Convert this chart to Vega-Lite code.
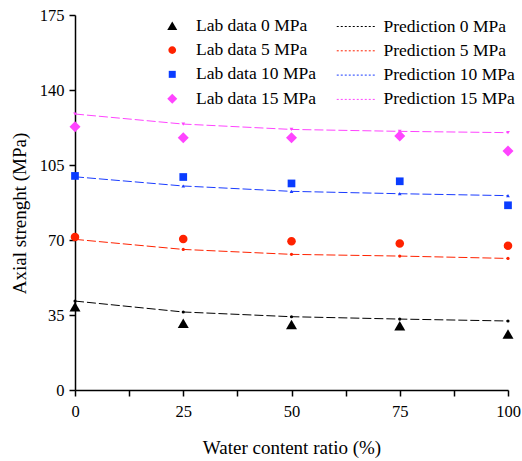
{
  "$schema": "https://vega.github.io/schema/vega-lite/v6.json",
  "width": 433,
  "height": 375,
  "autosize": {"type": "none"},
  "padding": {"left": 75, "top": 15, "right": 14, "bottom": 71},
  "background": "white",
  "config": {
    "font": "Liberation Serif",
    "view": {"stroke": null},
    "axis": {
      "domainColor": "black", "domainWidth": 1.5,
      "tickColor": "black", "tickWidth": 1.5, "tickSize": 6,
      "labelFont": "Liberation Serif", "labelFontSize": 16.5, "labelColor": "black",
      "titleFont": "Liberation Serif", "titleFontSize": 19, "titleFontWeight": "normal", "titleColor": "black",
      "grid": false
    },
    "legend": {
      "labelFont": "Liberation Serif", "labelFontSize": 17.5, "labelColor": "black", "labelFontWeight": "normal",
      "padding": 0, "titlePadding": 0
    }
  },
  "datasets": {
    "lab": [
      {"x": 0, "y": 38.9, "series": "Lab data 0 MPa"},
      {"x": 25, "y": 31.1, "series": "Lab data 0 MPa"},
      {"x": 50, "y": 30.6, "series": "Lab data 0 MPa"},
      {"x": 75, "y": 30.0, "series": "Lab data 0 MPa"},
      {"x": 100, "y": 26.1, "series": "Lab data 0 MPa"},
      {"x": 0, "y": 71.4, "series": "Lab data 5 MPa"},
      {"x": 25, "y": 70.5, "series": "Lab data 5 MPa"},
      {"x": 50, "y": 69.4, "series": "Lab data 5 MPa"},
      {"x": 75, "y": 68.4, "series": "Lab data 5 MPa"},
      {"x": 100, "y": 67.3, "series": "Lab data 5 MPa"},
      {"x": 0, "y": 99.9, "series": "Lab data 10 MPa"},
      {"x": 25, "y": 99.4, "series": "Lab data 10 MPa"},
      {"x": 50, "y": 96.4, "series": "Lab data 10 MPa"},
      {"x": 75, "y": 97.4, "series": "Lab data 10 MPa"},
      {"x": 100, "y": 86.2, "series": "Lab data 10 MPa"},
      {"x": 0, "y": 122.9, "series": "Lab data 15 MPa"},
      {"x": 25, "y": 117.7, "series": "Lab data 15 MPa"},
      {"x": 50, "y": 117.7, "series": "Lab data 15 MPa"},
      {"x": 75, "y": 118.5, "series": "Lab data 15 MPa"},
      {"x": 100, "y": 111.5, "series": "Lab data 15 MPa"}
    ],
    "pred": [
      {"x": 0, "y": 41.5, "pseries": "Prediction 0 MPa"},
      {"x": 25, "y": 36.4, "pseries": "Prediction 0 MPa"},
      {"x": 50, "y": 34.2, "pseries": "Prediction 0 MPa"},
      {"x": 75, "y": 33.1, "pseries": "Prediction 0 MPa"},
      {"x": 100, "y": 32.2, "pseries": "Prediction 0 MPa"},
      {"x": 0, "y": 70.3, "pseries": "Prediction 5 MPa"},
      {"x": 25, "y": 65.6, "pseries": "Prediction 5 MPa"},
      {"x": 50, "y": 63.3, "pseries": "Prediction 5 MPa"},
      {"x": 75, "y": 62.5, "pseries": "Prediction 5 MPa"},
      {"x": 100, "y": 61.4, "pseries": "Prediction 5 MPa"},
      {"x": 0, "y": 99.5, "pseries": "Prediction 10 MPa"},
      {"x": 25, "y": 95.2, "pseries": "Prediction 10 MPa"},
      {"x": 50, "y": 92.7, "pseries": "Prediction 10 MPa"},
      {"x": 75, "y": 91.6, "pseries": "Prediction 10 MPa"},
      {"x": 100, "y": 90.7, "pseries": "Prediction 10 MPa"},
      {"x": 0, "y": 128.8, "pseries": "Prediction 15 MPa"},
      {"x": 25, "y": 124.1, "pseries": "Prediction 15 MPa"},
      {"x": 50, "y": 121.6, "pseries": "Prediction 15 MPa"},
      {"x": 75, "y": 120.7, "pseries": "Prediction 15 MPa"},
      {"x": 100, "y": 120.1, "pseries": "Prediction 15 MPa"}
    ]
  },
  "encoding": {
    "x": {
      "field": "x", "type": "quantitative",
      "scale": {"domain": [0, 100], "nice": false, "zero": false},
      "axis": {
        "title": "Water content ratio (%)",
        "values": [0, 12.5, 25, 37.5, 50, 62.5, 75, 87.5, 100],
        "labelExpr": "datum.value % 25 == 0 ? datum.label : ''",
        "labelPadding": 7, "titlePadding": 19, "labelFlush": false, "labelOverlap": false
      }
    },
    "y": {
      "field": "y", "type": "quantitative",
      "scale": {"domain": [0, 175], "nice": false},
      "axis": {
        "title": "Axial strenght (MPa)",
        "values": [0, 35, 70, 105, 140, 175],
        "labelPadding": 5, "titlePadding": 10, "titleY": 198, "labelFlush": false
      }
    }
  },
  "layer": [
    {
      "data": {"name": "pred"},
      "layer": [
        {
          "mark": {"type": "line", "strokeWidth": 1, "strokeDash": [9, 3]},
          "encoding": {
            "color": {
              "field": "pseries", "type": "nominal",
              "scale": {
                "domain": ["Prediction 0 MPa", "Prediction 5 MPa", "Prediction 10 MPa", "Prediction 15 MPa"],
                "range": ["#000000", "#ff2200", "#1a3cff", "#ff44ff"]
              },
              "legend": {
                "title": null, "orient": "none", "legendX": 270.75, "legendY": 1,
                "symbolType": "M-2,0L2,0", "symbolSize": 380, "symbolStrokeWidth": 1,
                "symbolDash": [2, 2], "symbolFillColor": "transparent",
                "rowPadding": 5.3, "labelOffset": 16.75
              }
            }
          }
        },
        {
          "transform": [{"filter": "datum.pseries == 'Prediction 0 MPa' || datum.pseries == 'Prediction 5 MPa'"}],
          "mark": {"type": "point", "filled": true, "size": 10, "opacity": 1, "shape": "circle"},
          "encoding": {"color": {"field": "pseries", "type": "nominal"}}
        },
        {
          "transform": [{"filter": "datum.pseries == 'Prediction 10 MPa'"}],
          "mark": {"type": "point", "filled": true, "size": 14, "opacity": 1, "shape": "triangle-up"},
          "encoding": {"color": {"field": "pseries", "type": "nominal"}}
        },
        {
          "transform": [{"filter": "datum.pseries == 'Prediction 15 MPa'"}],
          "mark": {"type": "point", "filled": true, "size": 14, "opacity": 1, "shape": "triangle-down"},
          "encoding": {"color": {"field": "pseries", "type": "nominal"}}
        }
      ]
    },
    {
      "data": {"name": "lab"},
      "mark": {"type": "point", "filled": true, "opacity": 1, "size": 121},
      "encoding": {
        "color": {
          "field": "series", "type": "nominal",
          "scale": {
            "domain": ["Lab data 0 MPa", "Lab data 5 MPa", "Lab data 10 MPa", "Lab data 15 MPa"],
            "range": ["#000000", "#ff2200", "#0a3cff", "#ff44ff"]
          },
          "legend": {"title": null, "orient": "none", "legendX": 88.5, "legendY": 2, "rowPadding": 5.3, "labelOffset": 15, "symbolSize": 100}
        },
        "shape": {
          "field": "series", "type": "nominal",
          "scale": {
            "domain": ["Lab data 0 MPa", "Lab data 5 MPa", "Lab data 10 MPa", "Lab data 15 MPa"],
            "range": [
              "M0,-0.866L1,0.866L-1,0.866Z",
              "M0.78,0A0.78,0.78,0,1,1,-0.78,0A0.78,0.78,0,1,1,0.78,0Z",
              "M-0.7,-0.7L0.7,-0.7L0.7,0.7L-0.7,0.7Z",
              "M-1,0L0,-1L1,0L0,1Z"
            ]
          },
          "legend": {"title": null, "orient": "none", "legendX": 88.5, "legendY": 2, "rowPadding": 5.3, "labelOffset": 15, "symbolSize": 100}
        }
      }
    }
  ],
  "resolve": {"scale": {"color": "independent", "shape": "independent"}}
}
